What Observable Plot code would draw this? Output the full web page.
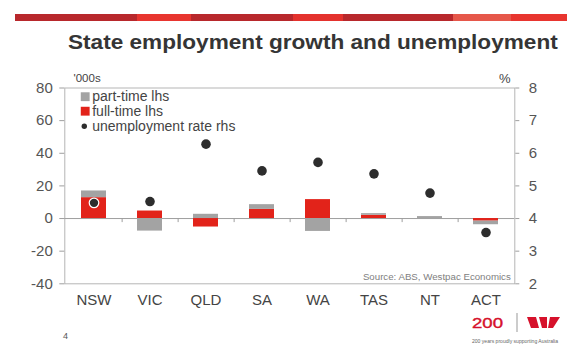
<!DOCTYPE html>
<html>
<head>
<meta charset="utf-8">
<script src="https://cdn.jsdelivr.net/npm/d3@7"></script>
<script src="https://cdn.jsdelivr.net/npm/@observablehq/plot@0.6"></script>
<style>
  html, body { margin: 0; padding: 0; background: #fff; }
  body { width: 580px; height: 352px; position: relative; overflow: hidden;
         font-family: "Liberation Sans", Arial, sans-serif; }
  #banner { position: absolute; left: 15px; top: 14px; width: 552px; height: 7px;
    background: linear-gradient(to right,
      #b8282c 0, #b8282c 122px, #e8352f 122px, #e8352f 176px,
      #b8282c 176px, #b8282c 278px, #e4322d 278px, #e4322d 328px,
      #b8282c 328px, #b8282c 438px, #e6574a 438px, #e6574a 496px,
      #e8352f 496px, #e8352f 552px); }
  #title { position: absolute; left: 68px; top: 31px; font-weight: bold; font-size: 20px;
    color: #353535; transform: scaleX(1.13); transform-origin: left top; white-space: nowrap; }
  #chart { position: absolute; left: 0; top: 60px; }
  #page { position: absolute; left: 63px; top: 331px; font-size: 9px; color: #555; }
  #logo { position: absolute; left: 462px; top: 310px; }
</style>
</head>
<body>
<div id="banner"></div>
<div id="title">State employment growth and unemployment</div>
<div id="chart"></div>
<div id="page">4</div>
<div id="logo">
  <svg width="110" height="40" xmlns="http://www.w3.org/2000/svg">
    <text x="10" y="18" font-size="15" fill="#d6112b" stroke="#d6112b" stroke-width="0.4" textLength="31" lengthAdjust="spacingAndGlyphs" font-family="Liberation Sans, Arial, sans-serif">200</text>
    <line x1="55" x2="55" y1="3" y2="22" stroke="#999" stroke-width="1"/>
    <polygon points="65,7 74,7 77,18 69,18" fill="#d6112b"/>
    <polygon points="77,7 85,7 85,18 80,18" fill="#d6112b"/>
    <polygon points="88,7 98,7 91,18 86,18" fill="#d6112b"/>
    <text x="10" y="33" font-size="4.5" fill="#666" textLength="86" lengthAdjust="spacingAndGlyphs" font-family="Liberation Sans, Arial, sans-serif">200 years proudly supporting Australia</text>
  </svg>
</div>
<script>
// ---- data ----
const states = ["NSW", "VIC", "QLD", "SA", "WA", "TAS", "NT", "ACT"];
const fullTime = [12.8, 4.6, -5.2, 5.6, 11.6, 2.0, 0.0, -1.6];      // '000s, lhs
const partTime = [4.1, -7.7, 2.6, 2.9, -7.9, 1.0, 1.2, -2.2];       // '000s, lhs
const unemploymentRate = [4.48, 4.52, 6.28, 5.46, 5.72, 5.37, 4.78, 3.57]; // %, rhs
const lhsTicks = [-40, -20, 0, 20, 40, 60, 80];
const rhsTicks = [2, 3, 4, 5, 6, 7, 8];
const seriesNames = ["part-time lhs", "full-time lhs", "unemployment rate rhs"];
const lhsUnit = "'000s";
const rhsUnit = "%";
const sourceText = "Source: ABS, Westpac Economics";

// ---- derived tables ----
const toL = r => (r - 4) * 20; // rhs % -> lhs scale
const bars = [];
states.forEach((s, i) => {
  bars.push({state: s, type: seriesNames[1], value: fullTime[i]});
  bars.push({state: s, type: seriesNames[0], value: partTime[i]});
});
const rates = states.map((s, i) => ({state: s, rate: unemploymentRate[i]}));

const grey = "#a3a3a3", red = "#e2231a", dark = "#2d2d2d";
const axisGrey = "#9e9e9e";
const step = (514.3 - 64.3) / states.length;

const legendMarks = [
  Plot.dot([0], {frameAnchor: "top-left", dx: 20.4, dy: 8.7, symbol: "square", r: 5, fill: grey}),
  Plot.dot([0], {frameAnchor: "top-left", dx: 20.4, dy: 23.2, symbol: "square", r: 5, fill: red}),
  Plot.dot([0], {frameAnchor: "top-left", dx: 19.5, dy: 38.2, r: 2.7, fill: dark}),
  ...seriesNames.map((name, i) =>
    Plot.text([name], {frameAnchor: "top-left", text: d => d, dx: 27.4, dy: 8.5 + i * 14.9,
      textAnchor: "start", lineAnchor: "middle", fontSize: 14, fill: "#444"}))
];

const chart = Plot.plot({
  width: 580,
  height: 260,
  marginLeft: 64.3,
  marginRight: 580 - 514.3,
  marginTop: 27.5,
  marginBottom: 36.7,
  style: {fontFamily: "Liberation Sans, Arial, sans-serif", background: "transparent"},
  x: {domain: states, paddingInner: 0.55, paddingOuter: 0.275, axis: null, label: null},
  y: {domain: [-40, 80], axis: null, label: null},
  color: {domain: [seriesNames[0], seriesNames[1]], range: [grey, red]},
  marks: [
    Plot.frame({stroke: "#b5b5b5"}),
    Plot.ruleY([0], {stroke: axisGrey}),
    Plot.ruleX(states.slice(0, -1), {x: d => d, y1: 0, y2: -2.5, dx: step / 2, stroke: axisGrey}),
    Plot.barY(bars, {x: "state", y: "value", fill: "type", order: [seriesNames[1], seriesNames[0]]}),
    Plot.dot(rates, {x: "state", y: d => toL(d.rate), r: 4.8, fill: dark}),
    Plot.dot(rates, {filter: d => d.state === "NSW", x: "state", y: d => toL(d.rate), r: 4.8,
      fill: "none", stroke: "white", strokeWidth: 1.2}),
    Plot.axisY({anchor: "left", ticks: lhsTicks, tickFormat: v => String(v), tickSize: 5, tickPadding: 7,
      fontSize: 15, color: "#555", stroke: axisGrey, label: null}),
    Plot.axisY({anchor: "right", ticks: rhsTicks.map(toL), tickFormat: v => String(v / 20 + 4),
      tickSize: 4, tickPadding: 10, fontSize: 15, color: "#555", stroke: axisGrey, label: null}),
    Plot.axisX({anchor: "bottom", tickSize: 0, tickPadding: 11, fontSize: 15, color: "#444", label: null}),
    Plot.text([lhsUnit], {frameAnchor: "top-left", text: d => d, dx: 8.7, dy: -10,
      textAnchor: "start", lineAnchor: "middle", fontSize: 11.5, fill: "#444"}),
    Plot.text([rhsUnit], {frameAnchor: "top-right", text: d => d, dx: -4.3, dy: -9.5,
      textAnchor: "end", lineAnchor: "middle", fontSize: 13, fill: "#444"}),
    Plot.text([sourceText], {frameAnchor: "bottom-right", text: d => d, dx: -4, dy: -6.8,
      textAnchor: "end", lineAnchor: "middle", fontSize: 9.7, fill: "#808080"}),
    ...legendMarks
  ]
});
document.getElementById("chart").appendChild(chart);
</script>
</body>
</html>
